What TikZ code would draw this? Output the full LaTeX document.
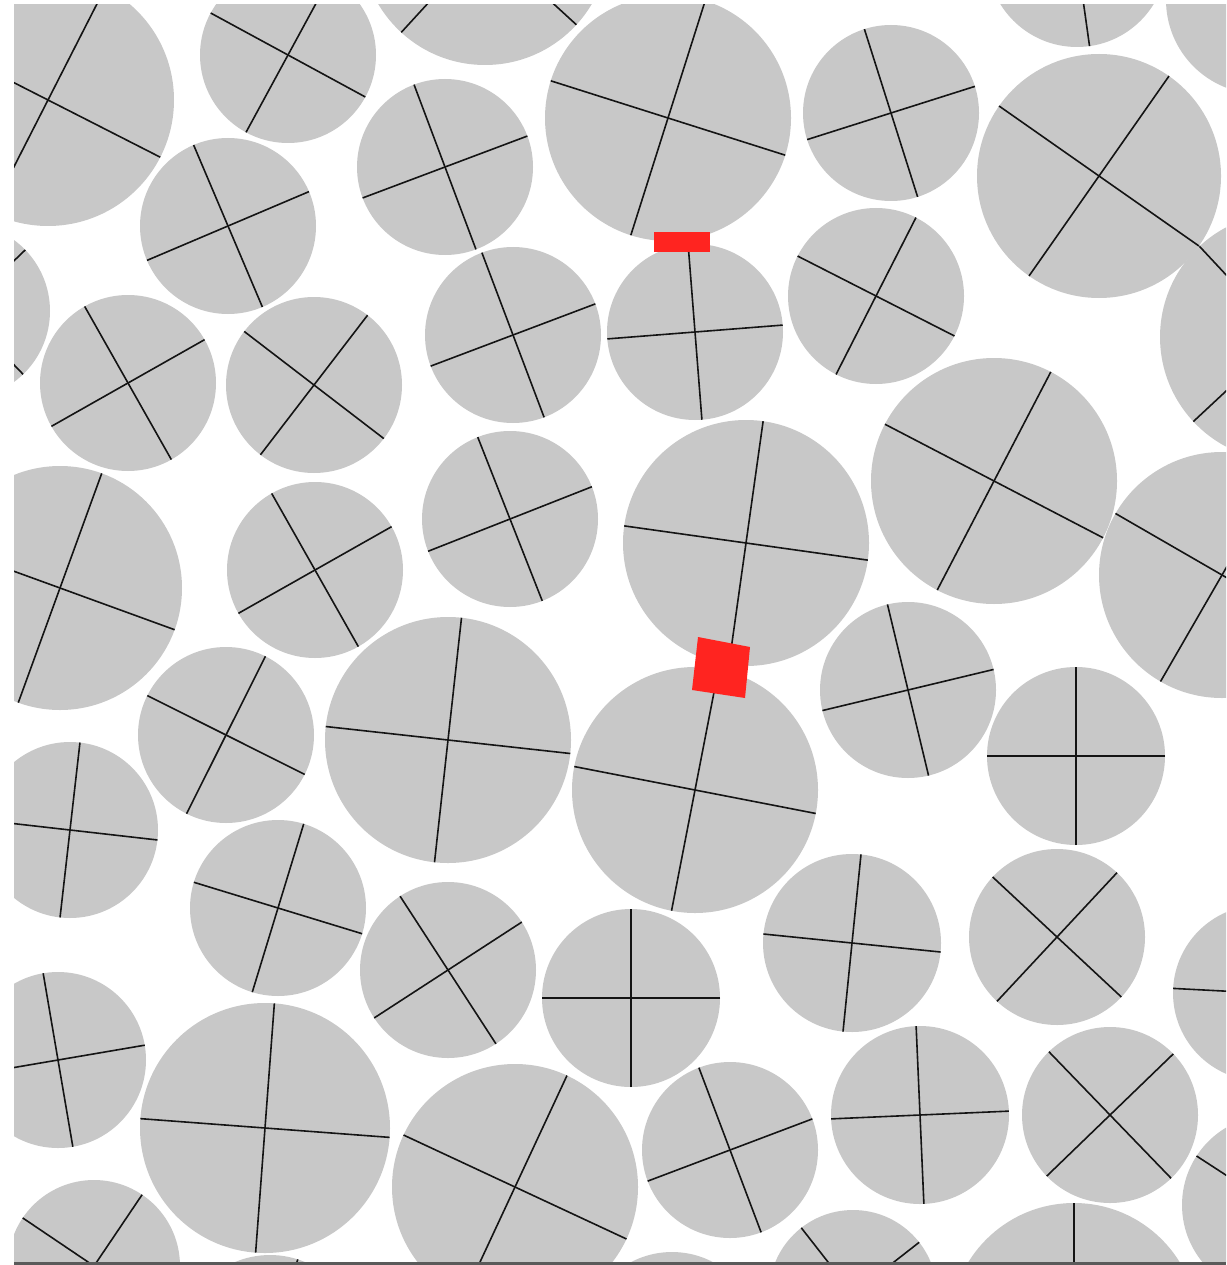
\documentclass[tikz,border=0pt]{standalone}
\definecolor{Grain}{HTML}{C8C8C8}
\definecolor{Mark}{HTML}{141414}
\definecolor{Probe}{HTML}{FF2420}
\definecolor{Floor}{HTML}{5A5A5A}
\tikzset{
  grain/.style={fill=Grain},
  spoke/.style={draw=Mark, line width=1.6pt},
  probe/.style={fill=Probe},
  floor/.style={draw=Floor, line width=3pt}
}
% one grain: centre x, centre y, radius, angle of its cross
\newcommand{\grain}[4]{%
  \begin{scope}[shift={(#1,#2)}]
    \fill[grain] (0,0) circle[radius=#3];
    \draw[spoke] (#4:#3) -- ({#4+180}:#3);
    \draw[spoke] ({#4+90}:#3) -- ({#4+270}:#3);
  \end{scope}}

\begin{document}
\begin{tikzpicture}[x=1pt,y=-1pt]
  \useasboundingbox (0,0) rectangle (1226,1265);
  \begin{scope}
    \clip (14,5) rectangle (1226,1262);
    % top rows
    \grain{48}{100}{126}{27}
    \grain{288}{55}{88}{28.5}
    \grain{485}{-59}{124}{42.5}
    \grain{668}{118}{123}{17.6}
    \grain{891}{113}{88}{-17.6}
    \grain{1099}{176}{122}{35}
    \grain{1077}{-43}{90}{82}
    \grain{1260}{0}{94}{0}
    \grain{1284}{337}{124}{47}
    \grain{-38}{311}{88}{46}
    \grain{228}{226}{88}{-23}
    \grain{445}{167}{88}{-20.6}
    \grain{513}{335}{88}{-20.7}
    \grain{695}{332}{88}{-4.5}
    \grain{876}{296}{88}{27}
    \grain{128}{383}{88}{-29.5}
    \grain{314}{385}{88}{37.5}
    % middle rows
    \grain{60}{588}{122}{20}
    \grain{315}{570}{88}{-29.5}
    \grain{510}{519}{88}{-21.5}
    \grain{746}{543}{123}{8}
    \grain{994}{481}{123}{27.5}
    \grain{1222}{575}{123}{30}
    \grain{908}{690}{88}{-13.5}
    \grain{226}{735}{88}{26.6}
    \grain{448}{740}{123}{6.3}
    \grain{695}{790}{123}{11}
    \grain{1076}{756}{89}{0}
    \grain{70}{830}{88}{6.5}
    \grain{278}{908}{88}{17}
    \grain{448}{970}{88}{-33}
    \grain{631}{998}{89}{0}
    \grain{852}{943}{89}{5.8}
    \grain{1057}{937}{88}{43}
    \grain{1261}{993}{88}{3}
    % bottom rows
    \grain{58}{1060}{88}{-9.7}
    \grain{265}{1128}{125}{4.3}
    \grain{515}{1187}{123}{25}
    \grain{730}{1150}{88}{-20.7}
    \grain{920}{1115}{89}{-2.5}
    \grain{1110}{1115}{88}{46}
    \grain{1272}{1205}{90}{33}
    \grain{94}{1266}{86}{34}
    \grain{853}{1294}{84}{52}
    \grain{1074}{1327}{124}{0}
    \grain{672}{1340}{88}{45}
    \grain{270}{1345}{90}{108}
    % red markers
    \fill[probe] (654,232) rectangle (710,252);
    \fill[probe] (698,637) -- (750,647) -- (745,698) -- (692,690) -- cycle;
  \end{scope}
  \draw[floor] (14,1263.5) -- (1226,1263.5);
\end{tikzpicture}
\end{document}
